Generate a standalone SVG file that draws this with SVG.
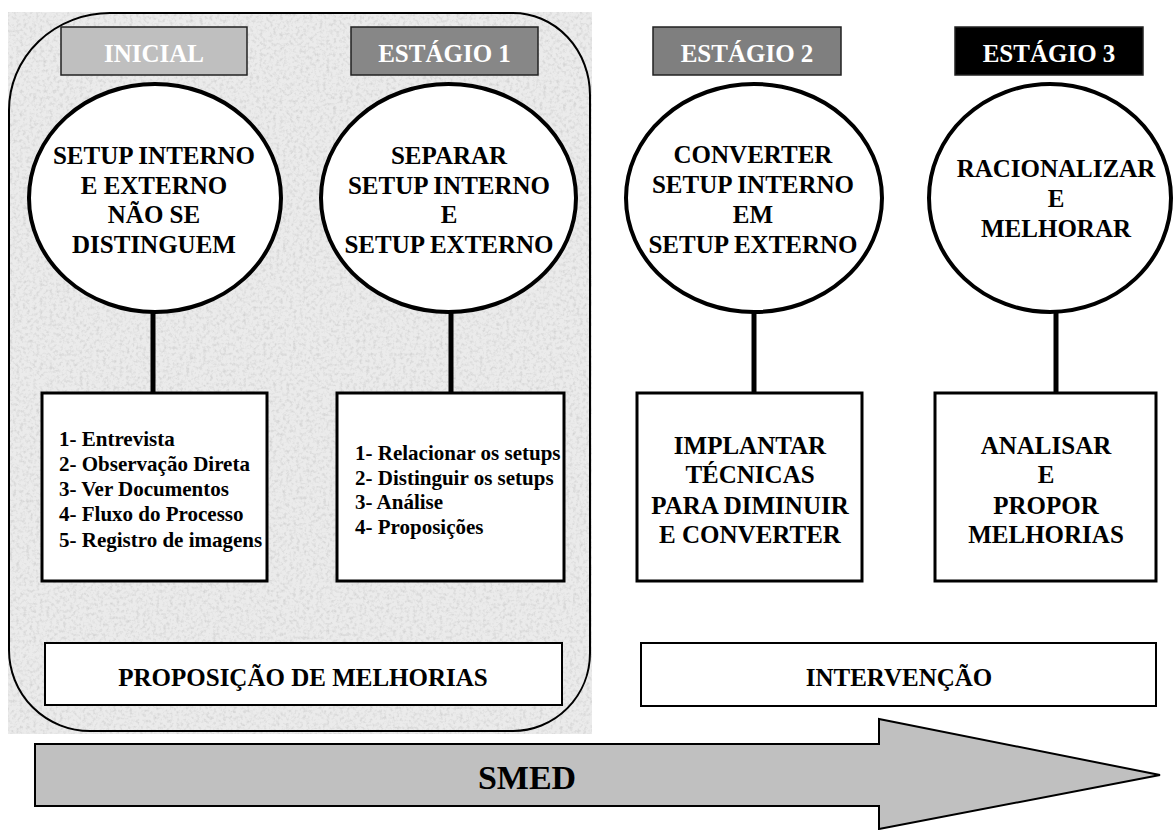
<svg xmlns="http://www.w3.org/2000/svg" width="1174" height="830" viewBox="0 0 1174 830">
<defs>
<style>
.t{font-family:"Liberation Serif","Times New Roman",serif;font-weight:bold;text-anchor:middle;fill:#000}
.h{font-family:"Liberation Serif","Times New Roman",serif;font-weight:bold;text-anchor:middle;fill:#fff;font-size:25px}
.big{font-size:25px}
.lst{font-family:"Liberation Serif","Times New Roman",serif;font-weight:bold;font-size:21px;fill:#000}
.circ{fill:#fff;stroke:#000;stroke-width:4}
.box{fill:#fff;stroke:#000;stroke-width:3}
.wbox{fill:#fff;stroke:#000;stroke-width:2}
.hdr{stroke:#222;stroke-width:1.5}
.stem{stroke:#000;stroke-width:5}
</style>
<filter id="noise" x="0" y="0" width="100%" height="100%">
<feTurbulence type="fractalNoise" baseFrequency="0.3" numOctaves="3" seed="4" result="n"/>
<feColorMatrix in="n" type="matrix" values="0 0 0 0 0.6  0 0 0 0 0.6  0 0 0 0 0.6  0 0 0 2.2 -1.0"/>
</filter>
</defs>
<rect width="1174" height="830" fill="#fff"/>
<g id="background">
<rect x="8" y="12" width="584" height="722" fill="#ebebeb"/>
<rect x="8" y="12" width="584" height="722" filter="url(#noise)" opacity="0.8"/>
<path d="M9,110 A101,97 0 0 1 110,13 L513,13 A77,82 0 0 1 590,95 L590,653 A77,78 0 0 1 513,731 L90,731 A81,81 0 0 1 9,650 Z" fill="none" stroke="#000" stroke-width="2"/>
</g>
<g id="connectors">
<line class="stem" x1="153" y1="312" x2="153" y2="393"/>
<line class="stem" x1="451" y1="312" x2="451" y2="393"/>
<line class="stem" x1="754" y1="312" x2="754" y2="393"/>
<line class="stem" x1="1056" y1="312" x2="1056" y2="393"/>
</g>
<g id="hdr-inicial"><rect class="hdr" x="61" y="27" width="186" height="48" fill="#bfbfbf"/><text class="h" x="154" y="62">INICIAL</text></g>
<g id="hdr-estagio1"><rect class="hdr" x="351" y="27" width="187" height="48" fill="#878787"/><text class="h" x="444.5" y="62">ESTÁGIO 1</text></g>
<g id="hdr-estagio2"><rect class="hdr" x="653" y="27" width="188" height="48" fill="#7f7f7f"/><text class="h" x="747" y="62">ESTÁGIO 2</text></g>
<g id="hdr-estagio3"><rect class="hdr" x="955" y="27" width="188" height="48" fill="#000"/><text class="h" x="1049" y="62">ESTÁGIO 3</text></g>
<g id="circle1"><ellipse class="circ" cx="155" cy="198" rx="126" ry="114"/>
<text class="t big" x="154"><tspan x="154" y="164">SETUP INTERNO</tspan><tspan x="154" y="194">E EXTERNO</tspan><tspan x="154" y="223">NÃO SE</tspan><tspan x="154" y="253">DISTINGUEM</tspan></text></g>
<g id="circle2"><ellipse class="circ" cx="448.5" cy="198" rx="127.5" ry="114"/>
<text class="t big" x="449"><tspan x="449" y="164">SEPARAR</tspan><tspan x="449" y="194">SETUP INTERNO</tspan><tspan x="449" y="223">E</tspan><tspan x="449" y="253">SETUP EXTERNO</tspan></text></g>
<g id="circle3"><ellipse class="circ" cx="754" cy="198" rx="128" ry="114"/>
<text class="t big" x="753"><tspan x="753" y="163">CONVERTER</tspan><tspan x="753" y="193">SETUP INTERNO</tspan><tspan x="753" y="223">EM</tspan><tspan x="753" y="253">SETUP EXTERNO</tspan></text></g>
<g id="circle4"><ellipse class="circ" cx="1050" cy="198" rx="121" ry="114"/>
<text class="t big" x="1056"><tspan x="1056" y="177">RACIONALIZAR</tspan><tspan x="1056" y="207">E</tspan><tspan x="1056" y="237">MELHORAR</tspan></text></g>
<g id="box1"><rect class="box" x="42" y="393" width="225" height="188"/>
<text class="lst"><tspan x="59" y="446">1- Entrevista</tspan><tspan x="59" y="471">2- Observação Direta</tspan><tspan x="59" y="496">3- Ver Documentos</tspan><tspan x="59" y="521">4- Fluxo do Processo</tspan><tspan x="59" y="547">5- Registro de imagens</tspan></text></g>
<g id="box2"><rect class="box" x="337" y="393" width="227" height="188"/>
<text class="lst"><tspan x="355" y="460">1- Relacionar os setups</tspan><tspan x="355" y="485">2- Distinguir os setups</tspan><tspan x="355" y="509">3- Análise</tspan><tspan x="355" y="534">4- Proposições</tspan></text></g>
<g id="box3"><rect class="box" x="637" y="393" width="225" height="188"/>
<text class="t big"><tspan x="750" y="454">IMPLANTAR</tspan><tspan x="750" y="483">TÉCNICAS</tspan><tspan x="750" y="514">PARA DIMINUIR</tspan><tspan x="750" y="543">E CONVERTER</tspan></text></g>
<g id="box4"><rect class="box" x="935" y="393" width="221" height="188"/>
<text class="t big"><tspan x="1046" y="454">ANALISAR</tspan><tspan x="1046" y="483">E</tspan><tspan x="1046" y="514">PROPOR</tspan><tspan x="1046" y="543">MELHORIAS</tspan></text></g>
<g id="proposicao"><rect class="wbox" x="45" y="643" width="517" height="62"/><text class="t big" x="303" y="686">PROPOSIÇÃO DE MELHORIAS</text></g>
<g id="intervencao"><rect class="wbox" x="641" y="643" width="515" height="63"/><text class="t big" x="899" y="686">INTERVENÇÃO</text></g>
<g id="smed"><path d="M35,744 L879,744 L879,719 L1160,775 L879,829 L879,806 L35,806 Z" fill="#c0c0c0" stroke="#000" stroke-width="2"/><text class="t" x="527" y="789" font-size="34">SMED</text></g>
</svg>
